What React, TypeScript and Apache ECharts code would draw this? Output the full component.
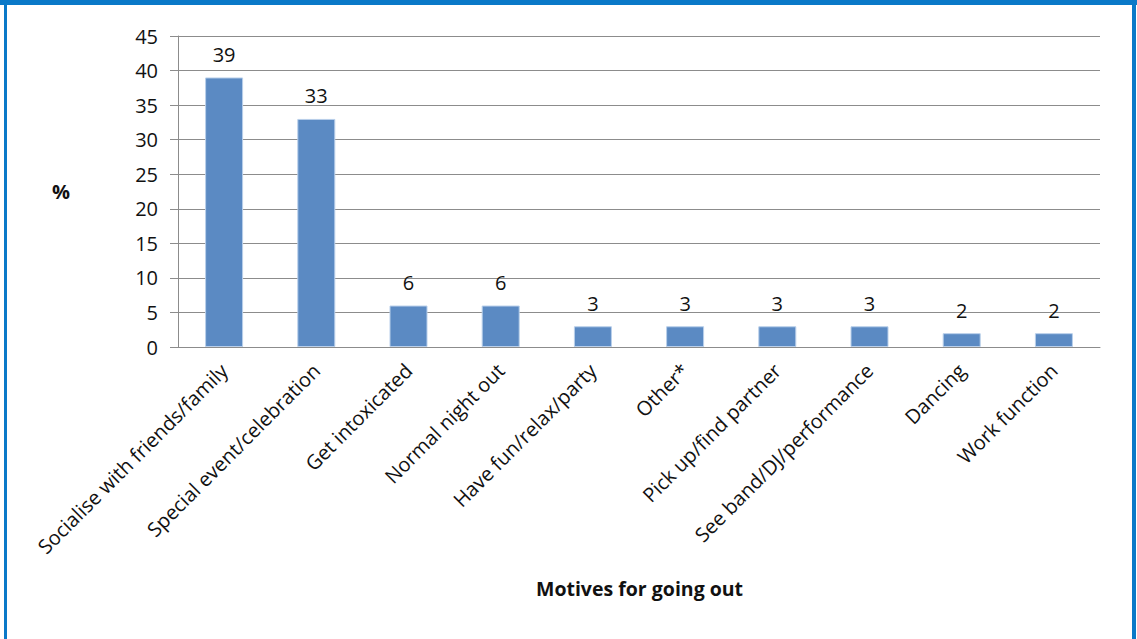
import React, { useEffect, useRef } from "react";
import * as echarts from "echarts";

const categories = [
  "Socialise with friends/family",
  "Special event/celebration",
  "Get intoxicated",
  "Normal night out",
  "Have fun/relax/party",
  "Other*",
  "Pick up/find partner",
  "See band/DJ/performance",
  "Dancing",
  "Work function",
];
const percentages = [39, 33, 6, 6, 3, 3, 3, 3, 2, 2];
const yTicks = [0, 5, 10, 15, 20, 25, 30, 35, 40, 45];

const FONT = "'Open Sans', 'Noto Sans', sans-serif";
const BORDER_BLUE = "#0A79C8";

export default function App() {
  const ref = useRef<HTMLDivElement>(null);

  useEffect(() => {
    if (!ref.current) return;
    const chart = echarts.init(ref.current, undefined, { renderer: "svg" });
    chart.setOption({
      animation: false,
      backgroundColor: "#ffffff",
      textStyle: { fontFamily: FONT },
      grid: { left: 178, right: 37, top: 36, bottom: 292, containLabel: false },
      graphic: [
        { type: "rect", left: 0, top: 0, shape: { width: 1137, height: 5 }, style: { fill: BORDER_BLUE } },
        { type: "rect", left: 4, top: 0, shape: { width: 3, height: 639 }, style: { fill: BORDER_BLUE } },
        { type: "rect", left: 1132, top: 0, shape: { width: 4, height: 639 }, style: { fill: BORDER_BLUE } },
        {
          type: "text",
          left: 52,
          top: 181,
          style: { text: "%", font: `bold 20px ${FONT}`, fill: "#111" },
        },
        {
          type: "text",
          left: 536,
          top: 578,
          style: { text: "Motives for going out", font: `bold 19.5px ${FONT}`, fill: "#111" },
        },
      ],
      xAxis: {
        type: "category",
        data: categories,
        axisLine: { show: true, lineStyle: { color: "#8c8c8c", width: 1 } },
        axisTick: { show: false },
        axisLabel: {
          interval: 0,
          rotate: 45,
          margin: 20,
          fontSize: 20,
          color: "#111",
          fontFamily: FONT,
        },
      },
      yAxis: {
        type: "value",
        min: yTicks[0],
        max: yTicks[yTicks.length - 1],
        interval: 5,
        axisLine: { show: true, lineStyle: { color: "#8c8c8c", width: 1 } },
        axisTick: { show: true, inside: false, length: 8, lineStyle: { color: "#8c8c8c" } },
        splitLine: { show: true, lineStyle: { color: "#8c8c8c", width: 1 } },
        axisLabel: { margin: 20, fontSize: 20, color: "#111", fontFamily: FONT },
      },
      series: [
        {
          type: "bar",
          data: percentages,
          barWidth: 38,
          itemStyle: { color: "#5B8AC3", borderColor: "#B9CFEA", borderWidth: 1 },
          label: {
            show: true,
            position: "top",
            distance: 13,
            fontSize: 20,
            color: "#111",
            fontFamily: FONT,
          },
        },
      ],
    });
    return () => chart.dispose();
  }, []);

  return (
    <div
      ref={ref}
      style={{ position: "absolute", left: 0, top: 0, width: 1137, height: 639 }}
    />
  );
}
